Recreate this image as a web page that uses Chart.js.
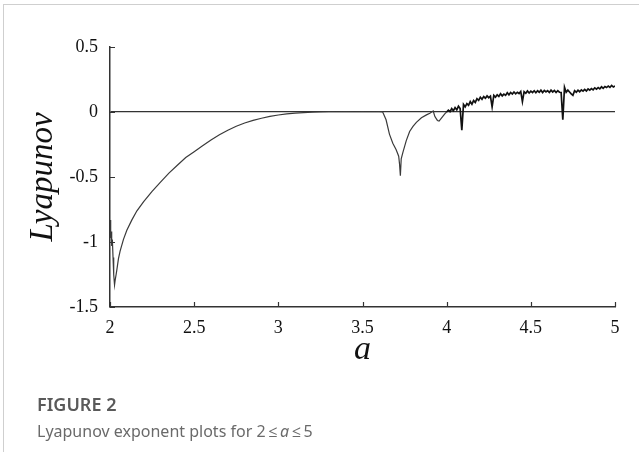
<!DOCTYPE html>
<html>
<head>
<meta charset="utf-8">
<script src="https://cdn.jsdelivr.net/npm/chart.js@4/dist/chart.umd.min.js"></script>
<style>
  html, body { margin: 0; padding: 0; background: #fff; }
  #wrap { position: relative; width: 639px; height: 452px; overflow: hidden; }
  #frame { position: absolute; left: 3px; top: 4px; right: 0; bottom: 0;
           border-left: 1px solid #cfcfcf; border-top: 1px solid #cfcfcf; }
  #lyap { position: absolute; left: 0; top: 0; }
  .cap { position: absolute; left: 37px; font-family: "Noto Sans", "Open Sans", sans-serif; white-space: nowrap; }
  #figno { top: 392px; font-size: 18px; font-weight: 600; color: #5a5a5a; }
  #figtxt { top: 420px; font-size: 16px; color: #6a6a6a; }
</style>
</head>
<body>
<div id="wrap">
  <div id="frame"></div>
  <canvas id="lyap" width="639" height="452"></canvas>
  <div class="cap" id="figno">FIGURE 2</div>
  <div class="cap" id="figtxt">Lyapunov exponent plots for 2&thinsp;≤&thinsp;<i>a</i>&thinsp;≤&thinsp;5</div>
</div>
<script>
// values
var aValues = [
  2.000, 2.004, 2.007, 2.010, 2.014, 2.018, 2.022, 2.027, 2.030, 2.040, 2.050, 2.060, 2.080,
  2.100, 2.130, 2.160, 2.200, 2.250, 2.300, 2.350, 2.400, 2.450, 2.500, 2.550, 2.600, 2.650,
  2.700, 2.750, 2.800, 2.850, 2.900, 2.950, 3.000, 3.050, 3.100, 3.150, 3.200, 3.240,
  3.300, 3.350, 3.400, 3.450, 3.500, 3.550, 3.600, 3.620,
  3.640, 3.660, 3.680, 3.700, 3.715, 3.720, 3.725, 3.730, 3.740, 3.760, 3.780, 3.800, 3.820,
  3.850, 3.880, 3.900, 3.920, 3.930, 3.945, 3.955, 3.970, 3.990,
  4.00, 4.01, 4.02, 4.03, 4.04, 4.05, 4.06, 4.07, 4.08, 4.09,
  4.10, 4.11, 4.12, 4.13, 4.14, 4.15, 4.16, 4.17, 4.18, 4.19,
  4.20, 4.21, 4.22, 4.23, 4.24, 4.25, 4.26, 4.27, 4.28, 4.29,
  4.30, 4.31, 4.32, 4.33, 4.34, 4.35, 4.36, 4.37, 4.38, 4.39,
  4.40, 4.41, 4.42, 4.43, 4.44, 4.45, 4.46, 4.47, 4.48, 4.49,
  4.50, 4.51, 4.52, 4.53, 4.54, 4.55, 4.56, 4.57, 4.58, 4.59,
  4.60, 4.61, 4.62, 4.63, 4.64, 4.65, 4.66, 4.67, 4.68, 4.69,
  4.70, 4.71, 4.72, 4.73, 4.74, 4.75, 4.76, 4.77, 4.78, 4.79,
  4.80, 4.81, 4.82, 4.83, 4.84, 4.85, 4.86, 4.87, 4.88, 4.89,
  4.90, 4.91, 4.92, 4.93, 4.94, 4.95, 4.96, 4.97, 4.98, 4.99, 5.00
];
var lyapunov = [
  -0.83, -0.97, -0.92, -1.03, -0.98, -1.12, -1.25, -1.33, -1.30, -1.22, -1.13, -1.07, -0.98,
  -0.91, -0.83, -0.76, -0.69, -0.61, -0.54, -0.47, -0.41, -0.35, -0.305, -0.26, -0.215, -0.175,
  -0.14, -0.11, -0.085, -0.065, -0.048, -0.034, -0.023, -0.015, -0.009, -0.005, -0.002, 0.000,
  0.003, 0.002, 0.003, 0.002, 0.003, 0.002, 0.003, 0.000,
  -0.06, -0.17, -0.24, -0.29, -0.34, -0.40, -0.49, -0.36, -0.31, -0.22, -0.15, -0.11, -0.08,
  -0.045, -0.022, -0.010, 0.008, -0.035, -0.065, -0.070, -0.045, -0.013,
  0.000, 0.014, 0.002, 0.026, 0.010, 0.034, 0.016, 0.044, 0.026, -0.140,
  0.058, 0.040, 0.064, 0.052, 0.080, 0.060, 0.088, 0.074, 0.102, 0.090,
  0.114, 0.098, 0.118, 0.106, 0.124, 0.110, 0.122, 0.040, 0.128, 0.114,
  0.132, 0.120, 0.140, 0.124, 0.138, 0.128, 0.148, 0.132, 0.150, 0.138,
  0.154, 0.140, 0.152, 0.142, 0.158, 0.080, 0.156, 0.144, 0.162, 0.146,
  0.160, 0.150, 0.164, 0.148, 0.163, 0.152, 0.168, 0.150, 0.166, 0.154,
  0.164, 0.150, 0.168, 0.154, 0.166, 0.150, 0.164, 0.152, 0.150, -0.060,
  0.190, 0.152, 0.168, 0.154, 0.140, 0.128, 0.164, 0.152, 0.168, 0.156,
  0.170, 0.160, 0.174, 0.162, 0.178, 0.168, 0.180, 0.170, 0.186, 0.176,
  0.188, 0.178, 0.194, 0.182, 0.196, 0.188, 0.200, 0.190, 0.204, 0.192, 0.200
];
var xTickValues = [2, 2.5, 3, 3.5, 4, 4.5, 5];
var xTickLabels = ["2", "2.5", "3", "3.5", "4", "4.5", "5"];
var yTickValues = [-1.5, -1, -0.5, 0, 0.5];
var yTickLabels = ["-1.5", "-1", "-0.5", "0", "0.5"];

var lyap_chart = null;
var canvasElement = document.getElementById("lyap").getContext("2d");

var points = aValues.map(function (a, i) { return { x: a, y: lyapunov[i] }; });

// short inward tick marks, like the original plot
var innerTicks = {
  id: "innerTicks",
  afterDraw: function (chart) {
    var ctx = chart.ctx, area = chart.chartArea;
    var xs = chart.scales.x, ys = chart.scales.y;
    ctx.save();
    ctx.strokeStyle = "#333";
    ctx.lineWidth = 1.2;
    ctx.beginPath();
    xTickValues.forEach(function (v) {
      var px = Math.round(xs.getPixelForValue(v)) + 0.5;
      ctx.moveTo(px, area.bottom);
      ctx.lineTo(px, area.bottom - 5);
    });
    yTickValues.forEach(function (v) {
      var py = Math.round(ys.getPixelForValue(v)) + 0.5;
      ctx.moveTo(area.left, py);
      ctx.lineTo(area.left + 5, py);
    });
    ctx.stroke();
    ctx.restore();
  }
};

var config = {
  type: "scatter",
  data: {
    datasets: [
      {
        label: "Lyapunov",
        data: points,
        showLine: true,
        borderColor: "#1e1e1e",
        borderWidth: 1.6,
        pointRadius: 0,
        tension: 0,
        // thin grey curve for the smooth part, heavier black for the chaotic part
        segment: {
          borderColor: function (c) { return c.p0.parsed.x < 4 ? "#3a3a3a" : "#111"; },
          borderWidth: function (c) { return c.p0.parsed.x < 4 ? 1.2 : 1.7; },
        },
      },
    ],
  },
  options: {
    responsive: false,
    animation: false,
    layout: { padding: { left: 0, top: 47, right: 24, bottom: 85 } },
    plugins: { legend: { display: false }, tooltip: { enabled: false } },
    scales: {
      x: {
        type: "linear",
        min: 2,
        max: 5,
        afterBuildTicks: function (scale) {
          scale.ticks = xTickValues.map(function (v) { return { value: v }; });
        },
        afterFit: function (scale) { scale.height = 60; },
        grid: { display: false, drawTicks: false },
        border: { display: true, color: "#333", width: 1.5 },
        ticks: {
          color: "#111",
          padding: 10,
          font: { family: "Liberation Serif", size: 18 },
          callback: function (v) {
            var i = xTickValues.indexOf(v);
            return i >= 0 ? xTickLabels[i] : "";
          },
        },
        title: {
          display: true,
          text: "a",
          color: "#111",
          padding: { top: 0, bottom: 0 },
          font: { family: "Liberation Serif", size: 34, style: "italic", lineHeight: 1 },
        },
      },
      y: {
        type: "linear",
        min: -1.5,
        max: 0.5,
        afterBuildTicks: function (scale) {
          scale.ticks = yTickValues.map(function (v) { return { value: v }; });
        },
        afterFit: function (scale) { scale.width = 110; },
        grid: {
          drawTicks: false,
          lineWidth: 1.2,
          color: function (c) {
            return c.tick && c.tick.value === 0 ? "#333" : "rgba(0,0,0,0)";
          },
        },
        border: { display: true, color: "#333", width: 1.5 },
        ticks: {
          color: "#111",
          padding: 12,
          font: { family: "Liberation Serif", size: 18 },
          callback: function (v) {
            var i = yTickValues.indexOf(v);
            return i >= 0 ? yTickLabels[i] : "";
          },
        },
        title: {
          display: true,
          text: "Lyapunov",
          color: "#111",
          padding: { top: 27, bottom: 0 },
          font: { family: "Liberation Serif", size: 33, style: "italic", lineHeight: 1 },
        },
      },
    },
  },
  plugins: [innerTicks],
};

if (lyap_chart != null) {
  lyap_chart.destroy();
}

lyap_chart = new Chart(canvasElement, config);
</script>
</body>
</html>
